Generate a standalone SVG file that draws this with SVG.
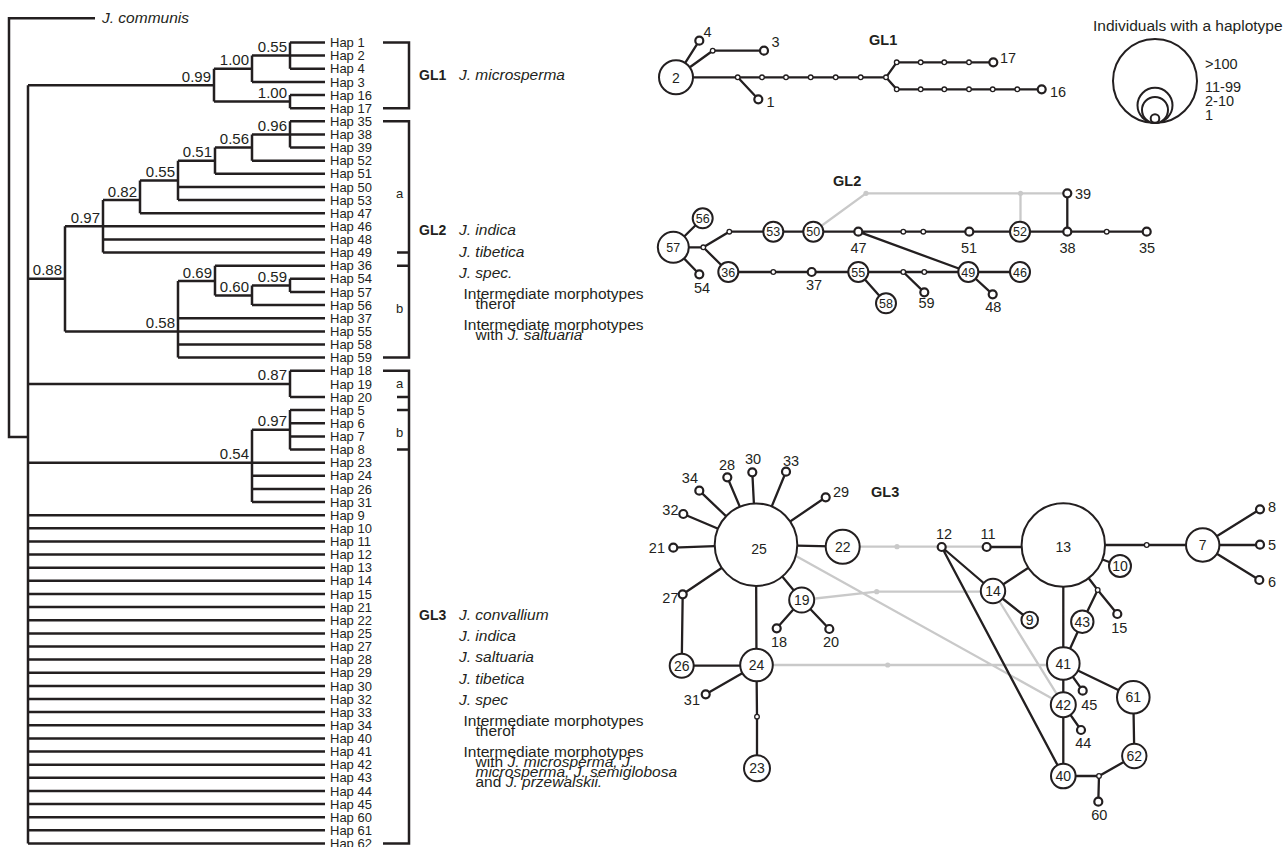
<svg xmlns="http://www.w3.org/2000/svg" width="1285" height="847" viewBox="0 0 1285 847">
<defs>
<style>
text{font-family:"Liberation Sans",Arial,Helvetica,sans-serif;fill:#231f20}
.t{stroke:#231f20;stroke-width:2.5;fill:none}
.c{stroke:#231f20;stroke-width:2.3;fill:none}
.g{stroke:#c9c9c9;stroke-width:2.3;fill:none}
.n{fill:#fff;stroke:#231f20;stroke-width:2}
.s{fill:#fff;stroke:#231f20;stroke-width:2.2}
.m{fill:#fff;stroke:#231f20;stroke-width:1.3}
.gd{fill:#c9c9c9}
.hap{font-size:13px}
.bs{font-size:15px;text-anchor:end}
.sp{font-size:15.5px}
.it{font-style:italic}
.gl{font-size:14px;font-weight:bold}
.ngl{font-size:14.5px;font-weight:bold}
.nl{font-size:14.5px}
.mid{text-anchor:middle}
.end{text-anchor:end}
.in{font-size:14px;text-anchor:middle}
.in2{font-size:12.5px;text-anchor:middle}
.lg{font-size:14.5px}
</style>
</defs>
<rect width="1285" height="847" fill="#fff"/>

<!-- ================= TREE ================= -->
<g id="tree">
<path class="t" d="M95,18.3H9V437H28 M28,85.2V843.4"/>
<!-- GL1 -->
<path class="t" d="M28,85.2H214 M214,68.8V101.6 M214,68.8H252 M252,55.6V81.9 M252,55.6H325 M290,42.5V68.8 M290,42.5H325 M290,68.8H325 M252,81.9H325 M214,101.6H290 M290,95V108.2 M290,95H325 M290,108.2H325"/>
<!-- GL2 a -->
<path class="t" d="M28,278.8H65 M65,226.3V331.4 M65,226.3H325 M103,200.1V252.6 M103,239.5H325 M103,252.6H325 M103,200.1H140 M140,180.5V213.2 M140,213.2H325 M140,180.5H178 M178,160.7V200.1 M178,186.9H325 M178,200.1H325 M178,160.7H215 M215,147.5V173.8 M215,173.8H325 M215,147.5H252 M252,134.4V160.7 M252,160.7H325 M252,134.4H325 M290,121.3V147.5 M290,121.3H325 M290,147.5H325"/>
<!-- GL2 b -->
<path class="t" d="M65,331.4H178 M178,281V357.6 M178,318.2H325 M178,331.4H325 M178,344.5H325 M178,357.6H325 M178,281H215 M215,265.7V295.5 M215,265.7H325 M215,295.5H252 M252,285.4V305.1 M252,305.1H325 M252,285.4H290 M290,278.8V292 M290,278.8H325 M290,292H325"/>
<!-- GL3 -->
<path class="t" d="M28,383.9H290 M290,370.8V397 M290,370.8H325 M290,397H325 M28,462.7H252 M252,429.8V502.1 M252,462.7H325 M252,475.8H325 M252,488.9H325 M252,502.1H325 M252,429.8H290 M290,410.1V449.5 M290,410.1H325 M290,423.3H325 M290,436.4H325 M290,449.5H325"/>
<path class="t" d="M28,515.2H325 M28,528.3H325 M28,541.4H325 M28,554.6H325 M28,567.7H325 M28,580.8H325 M28,594H325 M28,607.1H325 M28,620.2H325 M28,633.4H325 M28,646.5H325 M28,659.6H325 M28,672.7H325 M28,685.9H325 M28,699H325 M28,712.1H325 M28,725.3H325 M28,738.4H325 M28,751.5H325 M28,764.7H325 M28,777.8H325 M28,790.9H325 M28,804H325 M28,817.2H325 M28,830.3H325 M28,843.4H325"/>
<text class="sp it" x="102" y="23">J. communis</text>
<g class="bs">
<text x="287" y="52">0.55</text>
<text x="249" y="65.3">1.00</text>
<text x="211" y="81.7">0.99</text>
<text x="287" y="98.1">1.00</text>
<text x="287" y="130.9">0.96</text>
<text x="249" y="144">0.56</text>
<text x="212" y="157.2">0.51</text>
<text x="175" y="177">0.55</text>
<text x="137" y="196.6">0.82</text>
<text x="100" y="222.8">0.97</text>
<text x="62" y="275.3">0.88</text>
<text x="212" y="277.5">0.69</text>
<text x="287" y="281.9">0.59</text>
<text x="249" y="292">0.60</text>
<text x="175" y="327.9">0.58</text>
<text x="287" y="380.4">0.87</text>
<text x="287" y="426.3">0.97</text>
<text x="249" y="459.2">0.54</text>
</g>
<g class="hap">
<text x="330" y="47.1">Hap 1</text>
<text x="330" y="60.2">Hap 2</text>
<text x="330" y="73.4">Hap 4</text>
<text x="330" y="86.5">Hap 3</text>
<text x="330" y="99.6">Hap 16</text>
<text x="330" y="112.8">Hap 17</text>
<text x="330" y="125.9">Hap 35</text>
<text x="330" y="139">Hap 38</text>
<text x="330" y="152.1">Hap 39</text>
<text x="330" y="165.3">Hap 52</text>
<text x="330" y="178.4">Hap 51</text>
<text x="330" y="191.5">Hap 50</text>
<text x="330" y="204.7">Hap 53</text>
<text x="330" y="217.8">Hap 47</text>
<text x="330" y="230.9">Hap 46</text>
<text x="330" y="244.1">Hap 48</text>
<text x="330" y="257.2">Hap 49</text>
<text x="330" y="270.3">Hap 36</text>
<text x="330" y="283.4">Hap 54</text>
<text x="330" y="296.6">Hap 57</text>
<text x="330" y="309.7">Hap 56</text>
<text x="330" y="322.8">Hap 37</text>
<text x="330" y="336">Hap 55</text>
<text x="330" y="349.1">Hap 58</text>
<text x="330" y="362.2">Hap 59</text>
<text x="330" y="375.4">Hap 18</text>
<text x="330" y="388.5">Hap 19</text>
<text x="330" y="401.6">Hap 20</text>
<text x="330" y="414.7">Hap 5</text>
<text x="330" y="427.9">Hap 6</text>
<text x="330" y="441">Hap 7</text>
<text x="330" y="454.1">Hap 8</text>
<text x="330" y="467.3">Hap 23</text>
<text x="330" y="480.4">Hap 24</text>
<text x="330" y="493.5">Hap 26</text>
<text x="330" y="506.7">Hap 31</text>
<text x="330" y="519.8">Hap 9</text>
<text x="330" y="532.9">Hap 10</text>
<text x="330" y="546">Hap 11</text>
<text x="330" y="559.2">Hap 12</text>
<text x="330" y="572.3">Hap 13</text>
<text x="330" y="585.4">Hap 14</text>
<text x="330" y="598.6">Hap 15</text>
<text x="330" y="611.7">Hap 21</text>
<text x="330" y="624.8">Hap 22</text>
<text x="330" y="638">Hap 25</text>
<text x="330" y="651.1">Hap 27</text>
<text x="330" y="664.2">Hap 28</text>
<text x="330" y="677.3">Hap 29</text>
<text x="330" y="690.5">Hap 30</text>
<text x="330" y="703.6">Hap 32</text>
<text x="330" y="716.7">Hap 33</text>
<text x="330" y="729.9">Hap 34</text>
<text x="330" y="743">Hap 40</text>
<text x="330" y="756.1">Hap 41</text>
<text x="330" y="769.3">Hap 42</text>
<text x="330" y="782.4">Hap 43</text>
<text x="330" y="795.5">Hap 44</text>
<text x="330" y="808.6">Hap 45</text>
<text x="330" y="821.8">Hap 60</text>
<text x="330" y="834.9">Hap 61</text>
<text x="330" y="848">Hap 62</text>
</g>
</g>

<!-- ================= BRACKETS & GROUP LABELS ================= -->
<g id="brackets">
<path class="t" d="M383,42.5H409V108.2H383"/>
<path class="t" d="M383,121.3H409V357.6H383 M397,252.6H409 M397,265.7H409"/>
<path class="t" d="M383,370.8H409V843.4H383 M397,397H409 M397,410.1H409 M397,449.5H409"/>
<text class="hap" x="396" y="198">a</text>
<text class="hap" x="396" y="313">b</text>
<text class="hap" x="396" y="388">a</text>
<text class="hap" x="396" y="436.5">b</text>
</g>
<g id="group-GL1-label">
<text class="gl" x="419" y="80">GL1</text>
<text class="sp it" x="459" y="80">J. microsperma</text>
</g>
<g id="group-GL2-label">
<text class="gl" x="419" y="235">GL2</text>
<text class="sp it" x="459" y="235">J. indica</text>
<text class="sp it" x="459" y="257">J. tibetica</text>
<text class="sp it" x="459" y="278">J. spec.</text>
<text class="sp" x="463.5" y="299">Intermediate morphotypes</text>
<text class="sp" x="475.5" y="309">therof</text>
<text class="sp" x="463.5" y="330">Intermediate morphotypes</text>
<text class="sp" x="475.5" y="340">with <tspan class="it">J. saltuaria</tspan></text>
</g>
<g id="group-GL3-label">
<text class="gl" x="419" y="620">GL3</text>
<text class="sp it" x="459" y="620">J. convallium</text>
<text class="sp it" x="459" y="641">J. indica</text>
<text class="sp it" x="459" y="662">J. saltuaria</text>
<text class="sp it" x="459" y="684">J. tibetica</text>
<text class="sp it" x="459" y="705">J. spec</text>
<text class="sp" x="463.5" y="726">Intermediate morphotypes</text>
<text class="sp" x="475.5" y="736">therof</text>
<text class="sp" x="463.5" y="757">Intermediate morphotypes</text>
<text class="sp" x="475.5" y="767">with <tspan class="it">J. microsperma, J.</tspan></text>
<text class="sp it" x="475.5" y="777">microsperma, J. semiglobosa</text>
<text class="sp" x="475.5" y="787">and <tspan class="it">J. przewalskii.</tspan></text>
</g>

<!-- ================= LEGEND ================= -->
<g id="legend">
<text class="sp" x="1093" y="30.7">Individuals with a haplotype</text>
<circle class="n" cx="1155" cy="81" r="42"/>
<circle class="n" cx="1155" cy="105.3" r="17.5"/>
<circle class="n" cx="1155" cy="110" r="13"/>
<circle class="n" cx="1155" cy="118.5" r="4.3"/>
<text class="lg" x="1205" y="69">&gt;100</text>
<text class="lg" x="1205" y="92">11-99</text>
<text class="lg" x="1205" y="105.5">2-10</text>
<text class="lg" x="1205" y="119.5">1</text>
</g>

<!-- ================= CONNECTORS ================= -->
<g id="connectors">
<!-- GL1 -->
<path class="c" d="M676,77.3L699.3,40.7 M676,77.3L712.7,50.7H764 M676,77.3H886 M737.7,77.3L758.3,99.3 M886,77.3L896.7,62.3H993.3 M886,77.3L896.7,89.3H1041.7"/>
<!-- GL2 gray -->
<path class="g" d="M813.3,231.7L866,193.3H1067.3 M1020.5,193.3V231.7"/>
<!-- GL2 black -->
<path class="c" d="M673.3,247.3H703.3 M673.3,247.3L702.7,218.3 M673.3,247.3L699.3,274.3 M703.3,247.3L729.3,231.7H1146.7 M703.3,247.3L728.3,272 M728.3,272H1020 M858.3,231.7L968.3,272 M858.3,272L886,303.3 M903.3,272L924.3,292.3 M968.3,272L992.7,294.3 M1067.3,231.7V193.3"/>
<!-- GL3 gray -->
<path class="g" d="M842.7,546.7H986.7 M801.7,600L876.7,591.7H993 M756.5,665H1063.3 M796,556L1063.3,704.7 M993,591L1063.3,704.7"/>
<!-- GL3 black -->
<path class="c" d="M756,544.7L699.3,490.7 M756,544.7L727.3,477.3 M756,544.7L752.3,472.3 M756,544.7L786,471.7 M756,544.7L825.7,497.3 M756,544.7L683.3,514 M756,544.7L673.3,547.7 M756,544.7L682.7,594.3 M756,544.7L842.7,546.7 M756,544.7L801.7,600 M756,544.7L756.5,665 M682.7,594.3L681.7,665.7 M681.7,665.7H756.5 M756.5,665L705.7,694.3 M756.5,665L757,716.7V768.3 M801.7,600L776.7,628.3 M801.7,600L829.3,629"/>
<path class="c" d="M986.7,547H1063.3 M941.7,547L993,591 M941.7,547L1063.3,776 M1063.3,545L993,591 M993,591L1029.7,620 M1063.3,545L1120,566 M1063.3,545H1202.7 M1202.7,545L1260,509.3 M1202.7,545H1260 M1202.7,545L1259.3,580 M1063.3,545L1097.7,590L1117.3,614 M1097.7,590L1082.3,621.7L1063.3,663.5 M1063.3,545V776 M1063.3,663.5L1082.7,690.7 M1063.3,663.5L1133.3,697.3 M1063.3,704.7L1081,730 M1133.3,697.3L1134.3,756 M1063.3,776H1099L1134.3,756 M1099,776L1098.3,801.7"/>
</g>

<!-- ================= GL1 NETWORK NODES ================= -->
<g id="net-GL1">
<text class="ngl" x="869" y="45">GL1</text>
<g id="h2"><circle class="n" cx="676" cy="77.3" r="17"/><text class="in" x="676" y="82.5">2</text></g>
<g id="h4"><circle class="s" cx="699.3" cy="40.7" r="4"/><text class="nl" x="703.5" y="36.7">4</text></g>
<g id="h3"><circle class="s" cx="764" cy="50.7" r="4"/><text class="nl" x="771.5" y="46.7">3</text></g>
<g id="h1"><circle class="s" cx="758.3" cy="99.3" r="4"/><text class="nl" x="766.5" y="107.3">1</text></g>
<g id="h17"><circle class="s" cx="993.3" cy="62.3" r="4"/><text class="nl" x="1000" y="63.3">17</text></g>
<g id="h16"><circle class="s" cx="1041.7" cy="89.3" r="4"/><text class="nl" x="1050" y="96.7">16</text></g>
<g id="gl1-mv">
<circle class="m" cx="712.7" cy="50.7" r="2.3"/>
<circle class="m" cx="737.7" cy="77.3" r="2.3"/>
<circle class="m" cx="762" cy="77.3" r="2.3"/>
<circle class="m" cx="786" cy="77.3" r="2.3"/>
<circle class="m" cx="810.7" cy="77.3" r="2.3"/>
<circle class="m" cx="835.7" cy="77.3" r="2.3"/>
<circle class="m" cx="860.7" cy="77.3" r="2.3"/>
<circle class="m" cx="886" cy="77.3" r="2.3"/>
<circle class="m" cx="896.7" cy="62.3" r="2.3"/>
<circle class="m" cx="920.7" cy="62.3" r="2.3"/>
<circle class="m" cx="944.3" cy="62.3" r="2.3"/>
<circle class="m" cx="969" cy="62.3" r="2.3"/>
<circle class="m" cx="896.7" cy="89.3" r="2.3"/>
<circle class="m" cx="920.7" cy="89.3" r="2.3"/>
<circle class="m" cx="944.3" cy="89.3" r="2.3"/>
<circle class="m" cx="969" cy="89.3" r="2.3"/>
<circle class="m" cx="992.7" cy="89.3" r="2.3"/>
<circle class="m" cx="1017.3" cy="89.3" r="2.3"/>
</g>
</g>

<!-- ================= GL2 NETWORK NODES ================= -->
<g id="net-GL2">
<text class="ngl" x="833" y="186">GL2</text>
<g id="gl2-mv">
<circle class="gd" cx="866" cy="193.3" r="2.6"/>
<circle class="gd" cx="1020.5" cy="193.3" r="2.6"/>
<circle class="m" cx="703.3" cy="247.3" r="2.3"/>
<circle class="m" cx="729.3" cy="231.7" r="2.3"/>
<circle class="m" cx="903.3" cy="231.7" r="2.3"/>
<circle class="m" cx="923.3" cy="231.7" r="2.3"/>
<circle class="m" cx="1106.7" cy="231.7" r="2.3"/>
<circle class="m" cx="773.3" cy="272" r="2.3"/>
<circle class="m" cx="903.3" cy="272" r="2.3"/>
<circle class="m" cx="924.3" cy="272" r="2.3"/>
</g>
<g id="h57"><circle class="n" cx="673.3" cy="247.3" r="15.5"/><text class="in2" x="673.3" y="252">57</text></g>
<g id="h56"><circle class="n" cx="702.7" cy="218.3" r="10"/><text class="in2" x="702.7" y="222.8">56</text></g>
<g id="h54"><circle class="s" cx="699.3" cy="274.3" r="4"/><text class="nl mid" x="702" y="292.5">54</text></g>
<g id="h36"><circle class="n" cx="728.3" cy="272" r="10"/><text class="in2" x="728.3" y="276.5">36</text></g>
<g id="h53"><circle class="n" cx="773.3" cy="231.7" r="10"/><text class="in2" x="773.3" y="236.2">53</text></g>
<g id="h50"><circle class="n" cx="813.3" cy="231.7" r="10"/><text class="in2" x="813.3" y="236.2">50</text></g>
<g id="h47"><circle class="s" cx="858.3" cy="231.7" r="4"/><text class="nl mid" x="858.5" y="252.5">47</text></g>
<g id="h51"><circle class="s" cx="969.3" cy="231.7" r="4"/><text class="nl mid" x="969" y="252.5">51</text></g>
<g id="h52"><circle class="n" cx="1020" cy="231.7" r="10"/><text class="in2" x="1020" y="236.2">52</text></g>
<g id="h38"><circle class="s" cx="1067.3" cy="231.7" r="4"/><text class="nl mid" x="1067.5" y="252.5">38</text></g>
<g id="h35"><circle class="s" cx="1146.7" cy="231.7" r="4"/><text class="nl mid" x="1147" y="252.5">35</text></g>
<g id="h39"><circle class="s" cx="1067.3" cy="193.3" r="4"/><text class="nl" x="1075" y="199.3">39</text></g>
<g id="h37"><circle class="s" cx="811.7" cy="272" r="4"/><text class="nl mid" x="814" y="290">37</text></g>
<g id="h55"><circle class="n" cx="858.3" cy="272" r="10"/><text class="in2" x="858.3" y="276.5">55</text></g>
<g id="h58"><circle class="n" cx="886" cy="303.3" r="10"/><text class="in2" x="886" y="307.8">58</text></g>
<g id="h59"><circle class="s" cx="924.3" cy="292.3" r="4"/><text class="nl mid" x="926.5" y="308.3">59</text></g>
<g id="h49"><circle class="n" cx="968.3" cy="272" r="10"/><text class="in2" x="968.3" y="276.5">49</text></g>
<g id="h46"><circle class="n" cx="1020" cy="272" r="10"/><text class="in2" x="1020" y="276.5">46</text></g>
<g id="h48"><circle class="s" cx="992.7" cy="294.3" r="4"/><text class="nl mid" x="993.3" y="311.7">48</text></g>
</g>

<!-- ================= GL3 NETWORK NODES ================= -->
<g id="net-GL3">
<text class="ngl" x="871" y="496.7">GL3</text>
<g id="gl3-mv">
<circle class="gd" cx="897" cy="546.7" r="2.6"/>
<circle class="gd" cx="876.7" cy="591.7" r="2.6"/>
<circle class="gd" cx="887.7" cy="665" r="2.6"/>
<circle class="m" cx="757" cy="716.7" r="2.3"/>
<circle class="m" cx="1146.7" cy="545" r="2.3"/>
<circle class="m" cx="1097.7" cy="590" r="2.3"/>
<circle class="m" cx="1099" cy="776" r="2.3"/>
</g>
<g id="h25"><circle class="n" cx="756" cy="544.7" r="41.3"/><text class="in" x="759" y="554">25</text></g>
<g id="h34"><circle class="s" cx="699.3" cy="490.7" r="4"/><text class="nl end" x="698" y="483.3">34</text></g>
<g id="h28"><circle class="s" cx="727.3" cy="477.3" r="4"/><text class="nl mid" x="727" y="470">28</text></g>
<g id="h30"><circle class="s" cx="752.3" cy="472.3" r="4"/><text class="nl mid" x="753" y="464">30</text></g>
<g id="h33"><circle class="s" cx="786" cy="471.7" r="4"/><text class="nl mid" x="791" y="466">33</text></g>
<g id="h29"><circle class="s" cx="825.7" cy="497.3" r="4"/><text class="nl" x="833" y="497">29</text></g>
<g id="h32"><circle class="s" cx="683.3" cy="514" r="4"/><text class="nl end" x="678.5" y="515">32</text></g>
<g id="h21"><circle class="s" cx="673.3" cy="547.7" r="4"/><text class="nl end" x="665" y="553.3">21</text></g>
<g id="h27"><circle class="s" cx="682.7" cy="594.3" r="4"/><text class="nl end" x="678.5" y="603.3">27</text></g>
<g id="h22"><circle class="n" cx="842.7" cy="546.7" r="17"/><text class="in" x="842.7" y="551.7">22</text></g>
<g id="h19"><circle class="n" cx="801.7" cy="600" r="12.5"/><text class="in" x="801.7" y="605">19</text></g>
<g id="h18"><circle class="s" cx="776.7" cy="628.3" r="4"/><text class="nl mid" x="779" y="646.7">18</text></g>
<g id="h20"><circle class="s" cx="829.3" cy="629" r="4"/><text class="nl mid" x="831" y="646.7">20</text></g>
<g id="h26"><circle class="n" cx="681.7" cy="665.7" r="12"/><text class="in" x="681.7" y="670.7">26</text></g>
<g id="h24"><circle class="n" cx="756.5" cy="665" r="16.3"/><text class="in" x="756.5" y="670">24</text></g>
<g id="h31"><circle class="s" cx="705.7" cy="694.3" r="4"/><text class="nl end" x="700" y="705">31</text></g>
<g id="h23"><circle class="n" cx="757" cy="768.3" r="13"/><text class="in" x="757" y="773.3">23</text></g>
<g id="h12"><circle class="s" cx="941.7" cy="547" r="4"/><text class="nl mid" x="944" y="539.3">12</text></g>
<g id="h11"><circle class="s" cx="986.7" cy="547" r="4"/><text class="nl mid" x="988" y="539.3">11</text></g>
<g id="h13"><circle class="n" cx="1063.3" cy="545" r="41.7"/><text class="in" x="1063.3" y="551.5">13</text></g>
<g id="h7"><circle class="n" cx="1202.7" cy="545" r="16.7"/><text class="in" x="1202.7" y="550">7</text></g>
<g id="h8"><circle class="s" cx="1260" cy="509.3" r="4"/><text class="nl" x="1268" y="511.7">8</text></g>
<g id="h5"><circle class="s" cx="1260" cy="544.7" r="4"/><text class="nl" x="1268" y="550">5</text></g>
<g id="h6"><circle class="s" cx="1259.3" cy="580" r="4"/><text class="nl" x="1268" y="586.7">6</text></g>
<g id="h10"><circle class="n" cx="1120" cy="566" r="11"/><text class="in" x="1120" y="571">10</text></g>
<g id="h14"><circle class="n" cx="993" cy="591" r="12.2"/><text class="in" x="993" y="596">14</text></g>
<g id="h9"><circle class="n" cx="1029.7" cy="620" r="8.3"/><text class="in" x="1029.7" y="625">9</text></g>
<g id="h15"><circle class="s" cx="1117.3" cy="614" r="4"/><text class="nl mid" x="1119.3" y="633.3">15</text></g>
<g id="h43"><circle class="n" cx="1082.3" cy="621.7" r="11.2"/><text class="in" x="1082.3" y="626.7">43</text></g>
<g id="h41"><circle class="n" cx="1063.3" cy="663.5" r="16.3"/><text class="in" x="1063.3" y="668.5">41</text></g>
<g id="h45"><circle class="s" cx="1082.7" cy="690.7" r="4"/><text class="nl mid" x="1089.3" y="710">45</text></g>
<g id="h61"><circle class="n" cx="1133.3" cy="697.3" r="16.3"/><text class="in" x="1133.3" y="702.3">61</text></g>
<g id="h42"><circle class="n" cx="1063.3" cy="704.7" r="12.5"/><text class="in" x="1063.3" y="709.7">42</text></g>
<g id="h44"><circle class="s" cx="1081" cy="730" r="4"/><text class="nl mid" x="1083.3" y="748.3">44</text></g>
<g id="h40"><circle class="n" cx="1063.3" cy="776" r="12.3"/><text class="in" x="1063.3" y="781">40</text></g>
<g id="h62"><circle class="n" cx="1134.3" cy="756" r="12.2"/><text class="in" x="1134.3" y="761">62</text></g>
<g id="h60"><circle class="s" cx="1098.3" cy="801.7" r="4"/><text class="nl mid" x="1099.3" y="820">60</text></g>
</g>
</svg>
